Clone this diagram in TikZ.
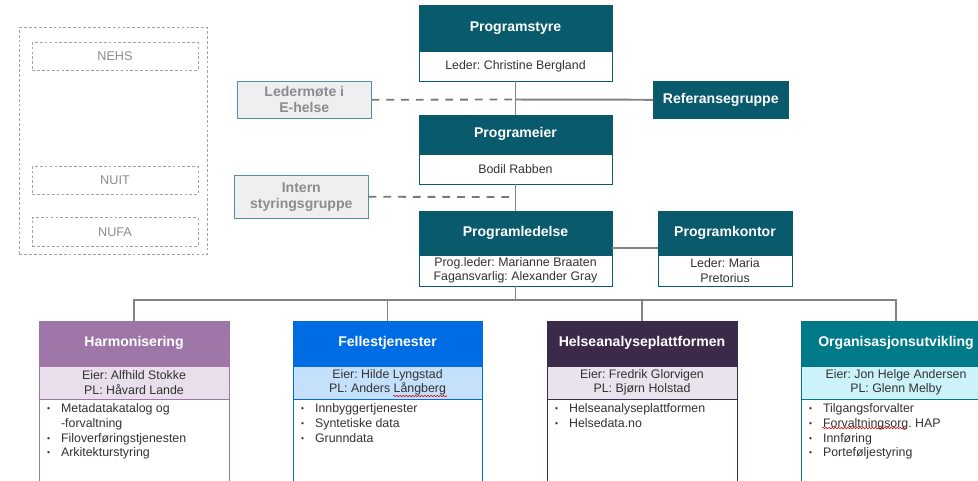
\documentclass[tikz,border=0pt]{standalone}
\usepackage{fontspec}
\setmainfont{Liberation Sans}
\usetikzlibrary{decorations.pathmorphing}
\frenchspacing
\definecolor{progteal}{RGB}{9,90,108}
\definecolor{harmhead}{RGB}{158,119,168}
\definecolor{harminfo}{RGB}{232,222,236}
\definecolor{fellhead}{RGB}{0,108,228}
\definecolor{fellinfo}{RGB}{197,224,250}
\definecolor{helsehead}{RGB}{60,42,74}
\definecolor{helseinfo}{RGB}{233,227,238}
\definecolor{orghead}{RGB}{0,122,137}
\definecolor{orginfo}{RGB}{204,242,250}
\definecolor{boxgray}{RGB}{239,239,239}
\definecolor{boxedge}{RGB}{80,145,160}
\definecolor{linegray}{RGB}{130,130,130}
\definecolor{dashgray}{RGB}{120,120,120}
\definecolor{txtgray}{RGB}{140,140,140}
\definecolor{txtdark}{RGB}{50,50,50}
\newcommand\pxu{0.025cm}
\newcommand\itm{\makebox[10pt][l]{\raisebox{0.8pt}{\fontsize{6}{6}\selectfont\textbullet}}}
\tikzset{
  wh/.style 2 args={minimum width=#1*\pxu, minimum height=#2*\pxu},
  head/.style={draw=#1, fill=#1, text=white, inner sep=0pt, anchor=north,
    align=center, font=\bfseries\fontsize{10}{11.5}\selectfont},
  info/.style={draw=#1, inner sep=0pt, anchor=north, align=center,
    text=txtdark, font=\fontsize{8.8}{10.4}\selectfont},
  listbox/.style={draw=#1, fill=white, inner sep=0pt, anchor=north},
  listtxt/.style={anchor=north west, inner sep=0pt, align=left,
    text=txtdark, font=\fontsize{8.8}{10.4}\selectfont},
  side/.style={draw=boxedge, fill=boxgray, text=txtgray, inner sep=0pt,
    align=center, font=\bfseries\fontsize{10}{11.5}\selectfont},
  forum/.style={draw=txtgray!80, line width=0.6pt, dash pattern=on 2pt off 1.5pt,
    text=txtgray, inner sep=0pt, font=\fontsize{9}{11}\selectfont},
  conn/.style={draw=linegray, line width=1.4pt},
  dconn/.style={draw=dashgray, line width=1.3pt, dash pattern=on 5.5pt off 5pt},
  squig/.style={draw=red!85!black, line width=0.4pt, decorate,
    decoration={snake, amplitude=0.5pt, segment length=2.2pt}}
}
\begin{document}
\begin{tikzpicture}[x=0.025cm, y=-0.025cm]
    \clip (0,0) rectangle (978,480);

    \node[forum, wh={188}{227}, anchor=north west] (NF) at (19,27) {};
    \node[forum, wh={166}{28}, anchor=north] (NEHS) at (115,42) {NEHS};
    \node[forum, wh={166}{28}, anchor=north] (NUIT) at (115,166) {NUIT};
    \node[forum, wh={166}{29}, anchor=north] (NUFA) at (115,217) {NUFA};

    \node[head=progteal, wh={193}{45}] (PS) at (515.5,5) {Programstyre};
    \node[info=progteal, fill=white, wh={193}{30}] (PSb) at (PS.south) {Leder: Christine Bergland};
    \node[head=progteal, wh={193}{38}] (PE) at (515.5,115) {Programeier};
    \node[info=progteal, fill=white, wh={193}{30}] (PEb) at (PE.south) {Bodil Rabben};
    \node[head=progteal, wh={193}{43}] (PL) at (515.5,211) {Programledelse};
    \node[info=progteal, fill=white, wh={193}{31}] (PLb) at (PL.south) {Prog.leder: Marianne Braaten\\Fagansvarlig: Alexander Gray};
    \node[head=progteal, wh={134}{43}] (PK) at (725,211) {Programkontor};
    \node[info=progteal, fill=white, wh={134}{31}] (PKb) at (PK.south) {Leder: Maria\\Pretorius};
    \node[head=progteal, wh={135}{37}, anchor=north west] (RG) at (653,81) {Referansegruppe};

    \node[side, wh={134}{37}, anchor=north west] (LM) at (237,81) {Ledermøte i\\E-helse};
    \node[side, wh={134}{43}, anchor=north west] (IS) at (234,175) {Intern\\styringsgruppe};

    \coordinate (ref) at (515.5,99.5);
    \coordinate (intern) at (515.5,197);
    \coordinate (bus) at (515.5,300);

    \draw[conn] (PSb.south) -- (PE.north);
    \draw[conn] (PEb.south) -- (PL.north);
    \draw[conn] (ref) -- (RG.west);
    \draw[dconn] (LM.east) -- (ref);
    \draw[dconn] (IS.east) -- (intern);
    \draw[conn] ([yshift=5pt]PL.south east) -- ([yshift=5pt]PK.south west);

    \node[head=harmhead, wh={190}{44}] (H) at (134,321) {Harmonisering};
    \node[info=harmhead, fill=harminfo, wh={190}{33}] (Hb) at (H.south) {Eier: Alfhild Stokke\\PL: Håvard Lande};
    \node[listbox=harmhead, wh={190}{100}] (Hl) at (Hb.south) {};
    \node[listtxt] (Ht) at ([xshift=5.7pt, yshift=-3.2pt]Hl.north west)
      {\itm Metadatakatalog og\\\hspace*{10pt}-forvaltning\\\itm Filoverføringstjenesten\\\itm Arkitekturstyring};

    \node[head=fellhead, wh={189}{44}] (F) at (387.5,321) {Fellestjenester};
    \node[info=fellhead, fill=fellinfo, wh={189}{33}] (Fb) at (F.south) {Eier: Hilde Lyngstad\\PL: Anders Långberg};
    \node[listbox=fellhead, wh={189}{100}] (Fl) at (Fb.south) {};
    \node[listtxt] (Ft) at ([xshift=5.7pt, yshift=-3.2pt]Fl.north west)
      {\itm Innbyggertjenester\\\itm Syntetiske data\\\itm Grunndata};

    \node[head=helsehead, wh={190}{44}] (HA) at (642,321) {Helseanalyseplattformen};
    \node[info=helsehead, fill=helseinfo, wh={190}{33}] (HAb) at (HA.south) {Eier: Fredrik Glorvigen\\PL: Bjørn Holstad};
    \node[listbox=helsehead, wh={190}{100}] (HAl) at (HAb.south) {};
    \node[listtxt] (HAt) at ([xshift=5.7pt, yshift=-3.2pt]HAl.north west)
      {\itm Helseanalyseplattformen\\\itm Helsedata.no};

    \node[head=orghead, wh={190}{44}] (O) at (896,321) {Organisasjonsutvikling};
    \node[info=orghead, fill=orginfo, wh={190}{33}] (Ob) at (O.south) {Eier: Jon Helge Andersen\\PL: Glenn Melby};
    \node[listbox=orghead, wh={190}{100}] (Ol) at (Ob.south) {};
    \node[listtxt] (Ot) at ([xshift=5.7pt, yshift=-3.2pt]Ol.north west)
      {\itm Tilgangsforvalter\\\itm Forvaltningsorg. HAP\\\itm Innføring\\\itm Porteføljestyring};

    \draw[conn] (PLb.south) -- (bus);
    \draw[conn] (H.north) |- (bus);
    \draw[conn] (O.north) |- (bus);
    \draw[conn] (F.north) -- (F.north |- bus);
    \draw[conn] (HA.north) -- (HA.north |- bus);

    \draw[squig] (393,396) -- (447,396);
    \draw[squig] (822,428) -- (907,428);
\end{tikzpicture}
\end{document}
